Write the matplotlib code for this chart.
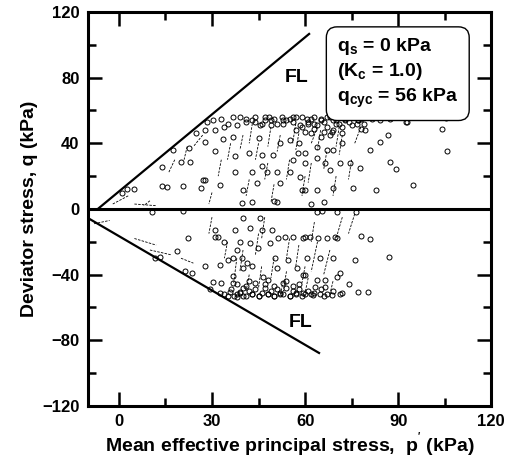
import numpy as np
import matplotlib
matplotlib.use("Agg")
import matplotlib.pyplot as plt
from matplotlib.ticker import MultipleLocator

plt.rcParams['font.family'] = ['Liberation Sans', 'DejaVu Sans']
plt.rcParams['font.weight'] = 'bold'
plt.rcParams['mathtext.fontset'] = 'custom'
plt.rcParams['mathtext.rm'] = 'Liberation Sans:bold'
plt.rcParams['mathtext.it'] = 'Liberation Sans:bold'
plt.rcParams['mathtext.bf'] = 'Liberation Sans:bold'

p_upper = [1, 2.5, 4.9, 13.9, 15.5, 14, 20.6, 26.5, 27, 25, 27.7, 22.6, 20, 23, 17.5,
           28.4, 30.4, 31, 27.7, 33.6, 36.8, 39, 36.8, 43, 45.5, 48.4, 49, 52.5, 55, 58.4, 60.6,
           31, 42, 37.4, 46, 49.7, 57.8, 60, 37.4, 43, 47.7, 51, 55, 58.4, 27.7, 32.6, 40, 44.5,
           52, 59, 39.7, 43, 51, 81.6, 84, 87.4, 93, 86.8, 84, 81, 87.4, 89.4, 94.8, 83, 77.7,
           74.5, 71.3, 66.5, 69, 72, 68.7, 76.8, 79.4, 75.5, 69, 63.8, 60, 105.5, 104, 105.8,
           92.6, 33, 35, 41, 44, 47, 50, 51, 54, 57, 62, 63, 65, 66, 68, 70, 71, 73, 74, 76,
           77, 78, 79, 80, 34, 38, 41, 46, 53, 56, 59, 61, 64, 67, 70, 72, 75, 78, 62, 65, 68,
           55, 58, 64, 67, 52, 45, 56, 60, 64, 68, 46, 50, 62, 66,
           44, 47, 49, 53, 56, 59, 61, 63, 65, 67, 69, 71, 73, 75, 77, 57, 60, 63, 66, 69, 72]
q_upper = [10, 12, 12, 25.6, 13.4, 14, 14, 12.8, 17.7, 46, 48, 37, 28.8, 28.8, 36,
           53, 54, 48, 41, 42.6, 44, 56, 56, 54, 51, 56, 51, 56, 55, 51, 55,
           35, 34, 32, 33, 33, 34, 34, 22.5, 22.5, 22.5, 22.5, 22.5, 19.5, 17.7, 14.6, 11.6, 15.8,
           15.8, 11.6, 3.6, 4.3, 4.3, 55, 54, 55, 53, 45, 41, 36, 28.8, 24.4, 14.6, 11.6, 25,
           28, 28, 28, 36, 40, 47, 52, 48, 12.8, 12.8, 11.6, 11.6, 55.4, 49, 35,
           53, 55, 52, 55, 53, 54, 55, 52, 54, 56, 55, 52, 55, 53, 56, 54, 52, 55, 53, 56,
           54, 55, 52, 56, 50, 51, 53, 52, 52, 53, 50, 52, 51, 50, 52, 50, 51, 49, 46, 44, 45,
           42, 40, 38, 36, 40, 43, 30, 28, 31, 24, 26, 5, 3, 4,
           56, 56, 54, 54, 56, 56, 53, 56, 54, 56, 54, 56, 54, 56, 54, 48, 47, 49, 47, 48, 46]

p_lower = [10.6, 20.6, 11.6, 13.2, 18.7, 22.3, 21.3, 23.5, 27.7, 29.4, 32.6, 35.8, 38, 39,
           36.8, 30.3, 32.6, 35, 38, 41.3, 32, 39, 42.3, 33, 36.8, 40, 43, 46.5, 51, 54.5,
           57.4, 59.4, 31, 31, 34, 37.4, 42.3, 40, 46, 49.4, 45.5, 51.3, 53.5, 56, 60, 44.8,
           48.7, 39.7, 36.8, 50.3, 59.4, 61.6, 64.2, 67, 69.7, 60.6, 64.8, 69, 76, 60, 63.9,
           66.5, 70.3, 71.3, 63.2, 66.5, 74, 59.4, 62.6, 64.8, 68.7, 71.3, 77, 80.3, 70.3,
           64, 65.5, 70.3, 76.5, 78, 81, 87, 34, 36, 37, 39, 40, 41, 42, 43, 44, 45, 46, 47,
           48, 49, 50, 51, 52, 53, 54, 55, 56, 57, 58, 60, 61, 63, 65, 67, 69, 72, 38, 41,
           44, 47, 50, 53, 56, 58, 42, 48, 54,
           35, 38, 40, 43, 45, 48, 50, 52, 55, 57, 59, 62, 66]
q_lower = [-1.8, -1.2, -30, -29, -25.6, -17.7, -38, -39, -35, -49, -51, -50.5, -53.6, -50.5,
           -45, -44.5, -34, -31, -25, -33, -17, -20, -20.7, -45, -41, -36, -35, -41.5, -36, -31,
           -36, -40, -12.8, -17, -20, -12.8, -11.6, -5.5, -12.8, -12.8, -5.5, -17.7, -17, -17, -17, -23.8,
           -20.7, -29.8, -29.8, -29.8, -17.7, -17, -17.7, -17.7, -17, -29.8, -29.8, -30, -31, -40, -43,
           -43, -41.5, -39, -47.5, -47.5, -46, -51, -52.4, -51.8, -52.4, -51.8, -50.5, -50.5, -17.7,
           -1.8, -1.2, -1.8, -1.8, -16.5, -18, -29, -52, -49, -53, -51, -48, -53, -50, -52, -49, -53, -51, -48,
           -52, -50, -53, -49, -51, -52, -48, -53, -50, -51, -49, -52, -50, -51, -49, -52, -50, -51, -46, -47,
           -45, -46, -47, -45, -47, -46, -44, -43, -44,
           -53, -52, -53, -52, -53, -52, -53, -52, -53, -52, -53, -52, -53]

# thin stress-path strokes between records (p0, q0) -> (p1, q1)
seg_p0 = [18, 22, 27, 33, 36, 40, 45, 48, 52, 55, 58, 62, 64, 67, 70, 72, 75, 78, 60, 50,
          42, 30, 10, 3, 5, -8, 5, 10, 20, 30, 35, 40, 45, 50, 55, 60, 64, 68, 72, 76, 42,
          38, 46, 54, 58, 43, 49, 57, 65, 71, 53, 61, 69, 47, 63]
seg_q0 = [30, 38, 45, 30, 40, 45, 40, 28, 45, 30, 46, 28, 50, 35, 20, 45, 30, 50, 20, 15,
          18, 10, 5, 8, 3, -9, -18, -25, -30, -5, -20, -25, -15, -30, -18, -35, -20, -25, -5, -3, -40,
          -30, -35, -38, -22, 52, 50, 52, 48, 50, -44, -42, -44, -5, -8]
seg_p1 = [16, 21, 24, 32, 35, 39, 44, 47, 51, 54, 57, 61, 62, 66, 69, 71, 74, 76, 59, 49,
          41, 29, 8, -2, 12, -3, 12, 17, 24, 29, 34, 39, 44, 49, 54, 59, 62, 66, 70, 74, 41,
          37, 45, 53, 57, 42, 48, 56, 64, 70, 52, 60, 68, 46, 62]
seg_q1 = [22, 30, 38, 20, 30, 36, 30, 18, 35, 18, 36, 16, 40, 24, 8, 33, 18, 40, 8, 4,
          8, 3, 2, 3, 2, -7, -22, -28, -33, -15, -30, -38, -28, -42, -30, -45, -38, -40, -18, -15, -50,
          -45, -48, -50, -35, 40, 38, 40, 36, 38, -52, -51, -52, -18, -20]

# failure lines
fl_upper_p = [-6.8, 61.3]
fl_upper_q = [0, 106.6]
fl_lower_p = [-10, 64.5]
fl_lower_q = [-5.5, -87.7]

fig = plt.figure(figsize=(5.08, 4.59), dpi=100)
ax = fig.add_axes([0.173, 0.1155, 0.794, 0.8585])

for a, b, c, d in zip(seg_p0, seg_q0, seg_p1, seg_q1):
    ax.plot([a, c], [b, d], color='black', lw=0.6, ls=(0, (3, 1.5)))

ax.plot(p_upper, q_upper, 'o', mfc='none', mec='black', ms=3.6, mew=0.7)
ax.plot(p_lower, q_lower, 'o', mfc='none', mec='black', ms=3.6, mew=0.7)

ax.plot(fl_upper_p, fl_upper_q, color='black', lw=1.6)
ax.plot(fl_lower_p, fl_lower_q, color='black', lw=1.6)
ax.axhline(0, color='black', lw=2.2)

ax.text(57.4, 80, 'FL', fontsize=14, fontweight='bold', ha='center', va='center')
ax.text(58.7, -69, 'FL', fontsize=14, fontweight='bold', ha='center', va='center')

ax.text(70.3, 83, 'q$_\\mathrm{s}$ = 0 kPa\n(K$_\\mathrm{c}$ = 1.0)\nq$_\\mathrm{cyc}$ = 56 kPa',
        fontsize=14, fontweight='bold', ha='left', va='center', linespacing=1.3,
        bbox=dict(boxstyle='round,pad=0.55', fc='white', ec='black', lw=1.0))

ax.set_xlim(-10, 120)
ax.set_ylim(-120, 120)
ax.xaxis.set_major_locator(MultipleLocator(30))
ax.xaxis.set_minor_locator(MultipleLocator(15))
ax.yaxis.set_major_locator(MultipleLocator(40))
ax.yaxis.set_minor_locator(MultipleLocator(20))
ax.tick_params(which='both', direction='in', top=True, right=True, width=1.8, labelsize=12)
ax.tick_params(which='major', length=10, pad=6)
ax.tick_params(which='minor', length=6)
for lab in ax.get_xticklabels() + ax.get_yticklabels():
    lab.set_fontweight('bold')
for s in ax.spines.values():
    s.set_linewidth(2.2)

ax.set_xlabel("Mean effective principal stress,  p$^{'}$ (kPa)", fontsize=14, fontweight='bold', labelpad=1)
ax.set_ylabel('Deviator stress, q (kPa)', fontsize=14, fontweight='bold', labelpad=3)

fig.savefig('out.png', dpi=100)
